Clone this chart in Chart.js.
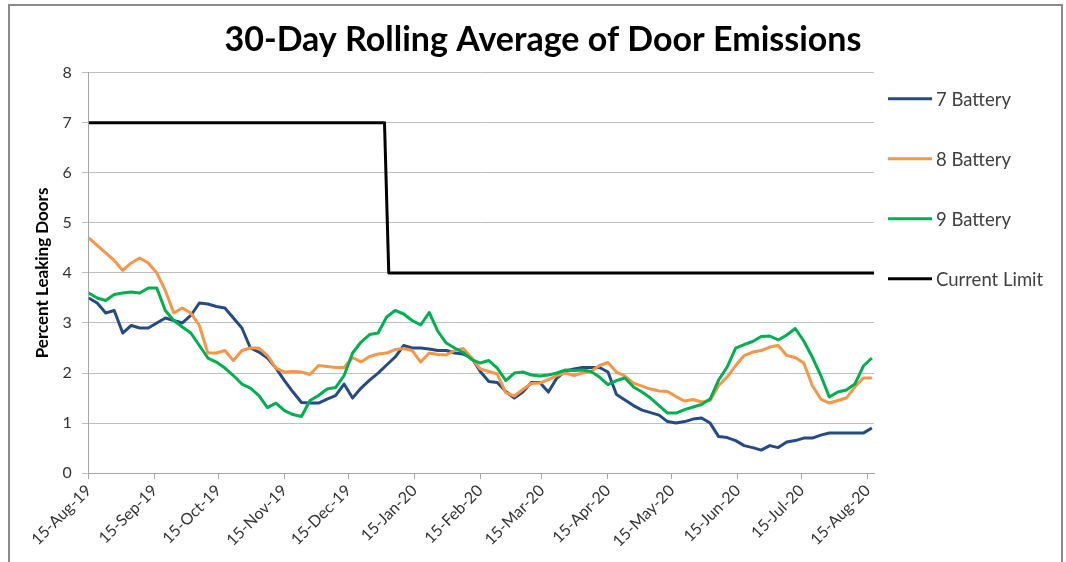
<!DOCTYPE html>
<html>
<head>
<meta charset="utf-8">
<script src="https://cdn.jsdelivr.net/npm/chart.js@4.4.1/dist/chart.umd.min.js"></script>
<style>
  html, body { margin: 0; padding: 0; background: #fff; }
  #wrap { position: relative; width: 1066px; height: 562px; overflow: hidden; }
  #frame { position: absolute; left: 8px; top: 4px; width: 1051px; height: 600px; border: 2px solid #8a8a8a; pointer-events: none; }
  canvas { position: absolute; left: 0; top: 0; }
</style>
</head>
<body>
<div id="wrap">
  <canvas id="emissionsChart" width="1066" height="562"></canvas>
  <div id="frame"></div>
</div>
<script>
// days after 15-Aug-19
const dayOffsets = [
  0, 4, 8, 12, 16, 20, 24, 28, 32, 36,
  40, 44, 48, 52, 56, 60, 64, 68, 72, 76,
  80, 84, 88, 92, 96, 100, 104, 108, 112, 116,
  120, 124, 128, 132, 136, 140, 144, 148, 152, 156,
  160, 164, 168, 172, 176, 180, 184, 188, 192, 196,
  200, 204, 208, 212, 216, 220, 224, 228, 232, 236,
  240, 244, 248, 252, 256, 260, 264, 268, 272, 276,
  280, 284, 288, 292, 296, 300, 304, 308, 312, 316,
  320, 324, 328, 332, 336, 340, 344, 348, 352, 356,
  360, 364, 368
];

const battery7 = [
  3.5, 3.4, 3.2, 3.25, 2.8, 2.95, 2.9, 2.9, 3.0, 3.1,
  3.05, 3.0, 3.15, 3.4, 3.38, 3.33, 3.3, 3.1, 2.9, 2.5,
  2.42, 2.3, 2.1, 1.85, 1.62, 1.41, 1.4, 1.4, 1.48, 1.55,
  1.78, 1.5, 1.7, 1.86, 2.0, 2.16, 2.32, 2.55, 2.5, 2.5,
  2.48, 2.45, 2.45, 2.4, 2.38, 2.3, 2.03, 1.83, 1.81, 1.63,
  1.5, 1.62, 1.81, 1.81, 1.62, 1.9, 2.04, 2.08, 2.11, 2.11,
  2.11, 2.02, 1.57, 1.46, 1.35, 1.26, 1.21, 1.16, 1.03, 1.0,
  1.03, 1.08, 1.1, 1.0, 0.73, 0.71, 0.65, 0.55, 0.51, 0.46,
  0.55, 0.51, 0.62, 0.65, 0.7, 0.7, 0.76, 0.8, 0.8, 0.8,
  0.8, 0.8, 0.9
];

const battery8 = [
  4.7, 4.55, 4.4, 4.25, 4.05, 4.2, 4.3, 4.2, 4.0, 3.65,
  3.2, 3.3, 3.2, 2.95, 2.4, 2.4, 2.45, 2.25, 2.45, 2.5,
  2.5, 2.35, 2.1, 2.02, 2.03, 2.02, 1.97, 2.15, 2.13, 2.11,
  2.11, 2.31, 2.22, 2.33, 2.38, 2.4, 2.47, 2.49, 2.45, 2.22,
  2.4, 2.37, 2.36, 2.45, 2.49, 2.3, 2.08, 2.03, 1.98, 1.61,
  1.54, 1.67, 1.79, 1.8, 1.87, 1.95, 2.0, 1.95, 2.0, 2.03,
  2.15, 2.21, 2.02, 1.94, 1.8, 1.74, 1.68, 1.64, 1.63, 1.53,
  1.44, 1.47, 1.42, 1.45, 1.75, 1.92, 2.15, 2.35, 2.42, 2.45,
  2.52, 2.55, 2.35, 2.31, 2.2, 1.75, 1.48, 1.4, 1.45, 1.5,
  1.72, 1.9, 1.9
];

const battery9 = [
  3.6, 3.5, 3.45, 3.57, 3.6, 3.62, 3.6, 3.7, 3.7, 3.25,
  3.05, 2.92, 2.8, 2.55, 2.3, 2.22, 2.1, 1.95, 1.78, 1.7,
  1.55, 1.31, 1.4, 1.25, 1.17, 1.13, 1.45, 1.55, 1.68, 1.71,
  1.95, 2.4, 2.62, 2.77, 2.8, 3.12, 3.25, 3.18, 3.05, 2.96,
  3.21, 2.84, 2.6, 2.5, 2.41, 2.27, 2.2, 2.25, 2.1, 1.85,
  2.0, 2.02, 1.96, 1.94, 1.96, 2.0, 2.06, 2.05, 2.06, 2.03,
  1.92, 1.77, 1.85, 1.9, 1.72, 1.62, 1.5, 1.35, 1.2, 1.2,
  1.27, 1.32, 1.37, 1.48, 1.86, 2.12, 2.5, 2.57, 2.63, 2.73,
  2.74, 2.66, 2.76, 2.89, 2.64, 2.32, 1.95, 1.52, 1.62, 1.66,
  1.78, 2.14, 2.3
];

const limitDays = [0, 139, 141, 369];
const limitValues = [7, 7, 4, 4];

const monthOffsets = [0, 31, 61, 92, 122, 153, 184, 213, 244, 274, 305, 335, 366];
const monthLabels = [
  "15-Aug-19", "15-Sep-19", "15-Oct-19", "15-Nov-19", "15-Dec-19", "15-Jan-20",
  "15-Feb-20", "15-Mar-20", "15-Apr-20", "15-May-20", "15-Jun-20", "15-Jul-20", "15-Aug-20"
];

function toPoints(xs, ys) {
  return xs.map((x, i) => ({ x: x, y: ys[i] }));
}

// legend drawn in the space kept free on the right
const sideLegend = {
  id: "sideLegend",
  afterDraw(chart) {
    const { ctx, chartArea } = chart;
    ctx.save();
    ctx.font = "18.5px Lato";
    ctx.textBaseline = "middle";
    chart.data.datasets.forEach((ds, i) => {
      const x = chartArea.right + 14;
      const y = chartArea.top + 26 + i * 60;
      ctx.strokeStyle = ds.borderColor;
      ctx.lineWidth = 3;
      ctx.beginPath();
      ctx.moveTo(x, y);
      ctx.lineTo(x + 44, y);
      ctx.stroke();
      ctx.fillStyle = "#404040";
      ctx.fillText(ds.label, x + 48, y + 1);
    });
    ctx.restore();
  }
};

const ctx = document.getElementById("emissionsChart").getContext("2d");
new Chart(ctx, {
  type: "line",
  data: {
    datasets: [
      { label: "7 Battery", data: toPoints(dayOffsets, battery7), borderColor: "#254b87", order: 4 },
      { label: "8 Battery", data: toPoints(dayOffsets, battery8), borderColor: "#f79646", order: 3 },
      { label: "9 Battery", data: toPoints(dayOffsets, battery9), borderColor: "#00b050", order: 2 },
      { label: "Current Limit", data: toPoints(limitDays, limitValues), borderColor: "#000000", order: 1 }
    ]
  },
  options: {
    responsive: false,
    animation: false,
    layout: { padding: { left: 20, right: 0, top: 0, bottom: 9 } },
    elements: {
      line: { borderWidth: 3, tension: 0, fill: false, borderJoinStyle: "round" },
      point: { radius: 0, hoverRadius: 0 }
    },
    plugins: {
      legend: { display: false },
      tooltip: { enabled: false },
      title: {
        display: true,
        text: "30-Day Rolling Average of Door Emissions",
        color: "#000",
        font: { family: "Lato", size: 34, weight: "bold" },
        padding: { top: 20, bottom: 12 }
      }
    },
    scales: {
      x: {
        type: "linear",
        min: 0,
        max: 369,
        afterBuildTicks: (scale) => {
          scale.ticks = monthOffsets.map(v => ({ value: v }));
        },
        ticks: {
          autoSkip: false,
          minRotation: 45,
          maxRotation: 45,
          padding: 2,
          color: "#333",
          font: { family: "Lato", size: 16 },
          callback: (value, index) => monthLabels[index]
        },
        grid: { drawOnChartArea: false, drawTicks: true, tickLength: 6, color: "#a6a6a6" },
        border: { color: "#a6a6a6" }
      },
      y: {
        min: 0,
        max: 8,
        ticks: {
          stepSize: 1,
          padding: 10,
          color: "#333",
          font: { family: "Lato", size: 16 }
        },
        grid: { color: "#bfbfbf", tickLength: 7 },
        border: { color: "#a6a6a6" },
        title: {
          display: true,
          text: "Percent Leaking Doors",
          color: "#000",
          font: { family: "Lato", size: 17, weight: "bold" },
          padding: { top: 12, bottom: 0 }
        }
      },
      legendSpace: {
        type: "linear",
        position: "right",
        display: true,
        grid: { display: false, drawTicks: false },
        border: { display: false },
        ticks: { display: false },
        afterFit: (scale) => { scale.width = 192; }
      }
    }
  },
  plugins: [sideLegend]
});
</script>
</body>
</html>
